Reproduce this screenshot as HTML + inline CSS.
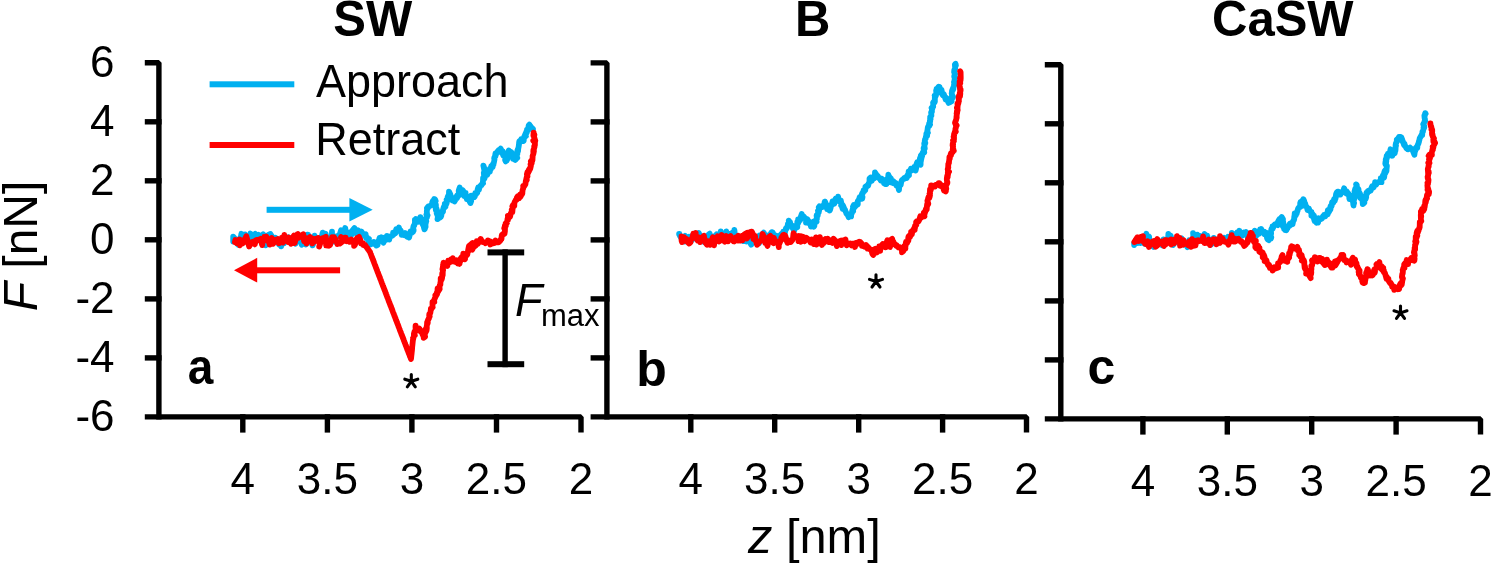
<!DOCTYPE html>
<html><head><meta charset="utf-8"><style>
html,body{margin:0;padding:0;background:#fff;}
body{width:1493px;height:564px;overflow:hidden;}
svg{display:block;will-change:transform;}
text{font-family:"Liberation Sans",sans-serif;fill:#000;}
</style></head><body>
<svg width="1493" height="564" viewBox="0 0 1493 564">
<g fill="#000">
<path d="M144.8 62.8 H158.9 V419.6" fill="none" stroke="#000" stroke-width="5.4" stroke-linejoin="bevel"/>
<path d="M144.8 416.9 H581 V432.6" fill="none" stroke="#000" stroke-width="5.4" stroke-linejoin="bevel"/>
<rect x="144.8" y="119.1" width="16.8" height="5.4"/>
<rect x="144.8" y="178.1" width="16.8" height="5.4"/>
<rect x="144.8" y="237.1" width="16.8" height="5.4"/>
<rect x="144.8" y="296.2" width="16.8" height="5.4"/>
<rect x="144.8" y="355.2" width="16.8" height="5.4"/>
<rect x="240.1" y="414.2" width="5.4" height="18.4"/>
<rect x="324.7" y="414.2" width="5.4" height="18.4"/>
<rect x="409.2" y="414.2" width="5.4" height="18.4"/>
<rect x="493.8" y="414.2" width="5.4" height="18.4"/>
<path d="M590.6 62.9 H606.9 V419.6" fill="none" stroke="#000" stroke-width="5.4" stroke-linejoin="bevel"/>
<path d="M590.6 416.9 H1026.5 V432.6" fill="none" stroke="#000" stroke-width="5.4" stroke-linejoin="bevel"/>
<rect x="590.6" y="119.2" width="19" height="5.4"/>
<rect x="590.6" y="178.2" width="19" height="5.4"/>
<rect x="590.6" y="237.2" width="19" height="5.4"/>
<rect x="590.6" y="296.2" width="19" height="5.4"/>
<rect x="590.6" y="355.2" width="19" height="5.4"/>
<rect x="688.1" y="414.2" width="5.4" height="18.4"/>
<rect x="772" y="414.2" width="5.4" height="18.4"/>
<rect x="856" y="414.2" width="5.4" height="18.4"/>
<rect x="939.9" y="414.2" width="5.4" height="18.4"/>
<path d="M1044.8 64.8 H1060.8 V421.6" fill="none" stroke="#000" stroke-width="5.4" stroke-linejoin="bevel"/>
<path d="M1044.8 418.9 H1480.5 V434.6" fill="none" stroke="#000" stroke-width="5.4" stroke-linejoin="bevel"/>
<rect x="1044.8" y="121.1" width="18.7" height="5.4"/>
<rect x="1044.8" y="180.1" width="18.7" height="5.4"/>
<rect x="1044.8" y="239.1" width="18.7" height="5.4"/>
<rect x="1044.8" y="298.2" width="18.7" height="5.4"/>
<rect x="1044.8" y="357.2" width="18.7" height="5.4"/>
<rect x="1140.2" y="416.2" width="5.4" height="18.4"/>
<rect x="1224.6" y="416.2" width="5.4" height="18.4"/>
<rect x="1309" y="416.2" width="5.4" height="18.4"/>
<rect x="1393.4" y="416.2" width="5.4" height="18.4"/>
</g>
<g font-size="44">
<text x="114.6" y="77.1" text-anchor="end">6</text>
<text x="114.6" y="136.1" text-anchor="end">4</text>
<text x="114.6" y="195.1" text-anchor="end">2</text>
<text x="114.6" y="254.1" text-anchor="end">0</text>
<text x="114.6" y="313.2" text-anchor="end">-2</text>
<text x="114.6" y="372.2" text-anchor="end">-4</text>
<text x="114.6" y="431.2" text-anchor="end">-6</text>
<text x="242.8" y="494.2" text-anchor="middle">4</text>
<text x="327.4" y="494.2" text-anchor="middle">3.5</text>
<text x="411.9" y="494.2" text-anchor="middle">3</text>
<text x="496.4" y="494.2" text-anchor="middle">2.5</text>
<text x="581" y="494.2" text-anchor="middle">2</text>
<text x="690.8" y="494.2" text-anchor="middle">4</text>
<text x="774.7" y="494.2" text-anchor="middle">3.5</text>
<text x="858.7" y="494.2" text-anchor="middle">3</text>
<text x="942.6" y="494.2" text-anchor="middle">2.5</text>
<text x="1026.5" y="494.2" text-anchor="middle">2</text>
<text x="1142.9" y="496.2" text-anchor="middle">4</text>
<text x="1227.3" y="496.2" text-anchor="middle">3.5</text>
<text x="1311.7" y="496.2" text-anchor="middle">3</text>
<text x="1396.1" y="496.2" text-anchor="middle">2.5</text>
<text x="1480.5" y="496.2" text-anchor="middle">2</text>
</g>
<text transform="translate(372.75 35.9) scale(1 1.035)" font-size="49" font-weight="bold" text-anchor="middle">SW</text>
<text transform="translate(812.8 35.7) scale(1 1.035)" font-size="49" font-weight="bold" text-anchor="middle">B</text>
<text transform="translate(1282.8 35.9) scale(1 1.035)" font-size="49" font-weight="bold" text-anchor="middle">CaSW</text>
<text transform="translate(200.6 383.6) scale(0.92 1)" font-size="50" font-weight="bold" text-anchor="middle">a</text>
<text x="651.6" y="386" font-size="50" font-weight="bold" text-anchor="middle">b</text>
<text x="1101.4" y="384.2" font-size="50" font-weight="bold" text-anchor="middle">c</text>
<text transform="translate(37.3 246) rotate(-90)" font-size="48" text-anchor="middle"><tspan font-style="italic">F</tspan> [nN]</text>
<text x="814.4" y="552.5" font-size="48.8" text-anchor="middle"><tspan font-style="italic">z</tspan> [nm]</text>
<rect x="209.6" y="81.3" width="84.7" height="6" fill="#00B0F0"/>
<rect x="209.6" y="142" width="84.7" height="6" fill="#FF0000"/>
<text transform="translate(316 96.6) scale(1 1.045)" font-size="45">Approach</text>
<text transform="translate(315.3 155.4) scale(1 1.045)" font-size="45">Retract</text>
<!-- arrows -->
<rect x="266.6" y="206.8" width="86" height="6" fill="#00B0F0"/>
<path d="M349.4 198 L372.7 209.8 L349.4 221.5 Z" fill="#00B0F0"/>
<rect x="254" y="267.3" width="86.1" height="6" fill="#FF0000"/>
<path d="M257.2 257.8 L234 270.3 L257.2 282.6 Z" fill="#FF0000"/>
<path d="M233.2 241.5 L233.2 236.6 L235.3 239.1 L236.6 241.3 L236.7 242.4 L238.1 244.6 L237.5 242.7 L240.9 236.7 L241.4 233.8 L241.6 236.3 L242.6 240.9 L244.9 237.2 L244 240.3 L244.9 241.1 L245.1 234.5 L245.7 235.3 L246.7 237.7 L247.8 238.9 L250 235.5 L250.4 233.5 L251.3 239.9 L252.4 234.9 L252.8 236.1 L255.2 233.9 L256.8 236.8 L257.7 239.3 L257.9 236.3 L258.6 234.8 L258.1 238.8 L260.2 238.5 L260.8 241.1 L261 236.3 L263.1 234.3 L263.6 241 L264.9 240.6 L265.3 240.4 L265.5 245.4 L267 243 L267.5 239.2 L269.2 238.6 L268.3 234.9 L270.4 234 L272.3 237 L273.6 238.5 L275 238 L275.4 239.1 L275.2 241.5 L275.1 238.3 L275.5 237.8 L279.2 241.2 L278.8 244.2 L281.1 245.7 L281.2 246.4 L282.6 240 L283.9 238.8 L284 243.4 L285.4 238.4 L285.7 241.4 L286 239.3 L287.6 238.5 L288.6 237.2 L289.3 238.6 L291.1 239.5 L292 241.3 L292.4 241.2 L294.7 237.1 L294.9 238.1 L293.9 238.4 L295.5 243.7 L297.6 235.8 L298 238.4 L298.5 238.6 L300.1 241.6 L300.5 240.7 L301.8 244.8 L302.4 239 L302.9 243.2 L303.5 239.8 L304.7 239.7 L306 244.5 L306 240.1 L307.4 234.6 L306.9 236.2 L308.1 234.8 L309.4 237.8 L311.1 242 L312.5 245.3 L312.9 244.7 L314.6 235.7 L315.4 237.5 L315.8 238.8 L318.1 240.1 L318.7 240.5 L318.5 239.5 L319 238 L319.5 238.9 L320.5 238.2 L321.4 238 L322.7 232.6 L323.4 233.9 L324.3 233.5 L325.7 233.9 L325.8 239.1 L326.6 240.9 L327.9 237.2 L329.5 238.3 L330.5 239 L332.1 242 L331.9 236 L332 231.6 L332 236.3 L333.9 240 L334.1 241.7 L335.5 236.6 L337.8 236.1 L339.7 234.6 L341.1 230.2 L340.9 234 L341 236.8 L341.9 232.6 L342.3 231.2 L343.6 232.8 L345 228.9 L345.2 228 L345.8 231.7 L346.7 234.1 L347.6 235 L348.5 232.5 L349.9 235.1 L351.4 235 L352.2 230.8 L354.4 228.1 L354.4 232 L356.2 233.4 L356.4 232.1 L357.9 230.3 L358.5 232.9 L359.6 232.9 L360 234.2 L360.7 233.4 L361.5 231.6 L362.1 232.8 L363.4 234.9 L364.5 235.9 L364.7 234.8 L365.6 234.2 L366.2 238.2 L366.7 237.6 L367.3 237.7 L368 240.4 L368.9 238.7 L368.5 239.4 L369.6 243.3 L370.2 243 L370.8 244.4 L371.3 242.5 L372.3 243.6 L373.4 243.6 L374 242 L375.2 244.4 L376.1 244.9 L376.4 245.6 L377.6 244.9 L377.9 241.9 L379 240 L379.6 237.9 L380.5 239.1 L381.4 237.3 L382 240.1 L383.4 242.6 L384.6 240.2 L385.5 240.1 L385.3 237.4 L387 237.7 L387 235.9 L387.9 236.6 L389.3 239.6 L389.4 236.7 L391.5 235.9 L392 235.8 L393.4 234.9 L393.1 232.7 L394.8 232.8 L395.4 233.1 L395.4 232.4 L396.3 229.1 L397.1 229.9 L398 230.2 L398.9 227.6 L399.8 230.9 L400.7 230.5 L401.4 233.1 L401.7 234.9 L402.9 233.7 L404.4 235.2 L404.1 234.7 L405.1 233 L405.1 234.5 L406.4 234.6 L407.1 236.7 L408 235.5 L407.8 236.4 L409.1 237.5 L409.6 235.6 L409.5 236 L409.9 233.4 L409.9 233.7 L410.5 231.4 L411.2 231.8 L412.1 232.5 L412.4 230.7 L412.9 231.9 L413.6 229.4 L413.6 230.6 L413.2 229.2 L413.2 227.6 L413.6 225.9 L414 225.8 L414.3 225.4 L415 222.4 L414.9 220 L415.3 220.9 L415.9 219 L416.3 220 L417.1 221.2 L418.3 221.7 L419.8 219.8 L420.3 217.2 L420 218.2 L420 219.6 L421.3 221.5 L422.1 221.3 L421.6 222.1 L422.7 223 L422.3 223.4 L423.2 225.3 L423.4 225.5 L424.1 226.7 L423.9 227.4 L424.4 229.4 L424.9 228.7 L425.1 227.7 L425.6 226.8 L425.4 224.1 L425.4 224.7 L425.9 222.6 L425.6 221.4 L426.3 221.2 L426 220.5 L425.9 219.2 L425.7 218.5 L426.3 218.1 L427 217.3 L426.4 214.5 L427.5 215.3 L427.1 215.1 L426.8 211.7 L427 209.8 L427.3 209 L427.6 208.6 L427 208.1 L428.2 206.6 L428.3 206.9 L429 206.1 L429.5 206.3 L430.5 205.5 L430.9 205.4 L431.3 205.2 L432.4 203.6 L432.2 202.5 L432.9 200.9 L434 200.4 L434.2 199 L434.8 199.2 L435.1 199.5 L435.7 201.1 L435 202.1 L435 203.6 L435.2 205.2 L435.9 204.7 L435.9 207.8 L435.5 207.2 L435.9 210.3 L436.5 208.4 L437.2 211.4 L436.5 210.6 L436.4 211 L436.8 212 L437.6 211.2 L436.7 213.4 L437.5 215.3 L437.9 215.1 L437.8 217.5 L437.5 219.1 L438.3 218.7 L438.2 217.3 L439.3 217.8 L440.4 217.3 L440.8 216.9 L441.3 215.7 L441.6 213 L442.1 212.7 L442.4 211.1 L443 211.6 L443.1 209.5 L443.7 207.2 L444.4 205.8 L444.9 207.3 L445.4 206.8 L444.9 205.7 L444.8 203.9 L446.4 204.1 L446.8 202.6 L446.3 202.5 L446.9 200.8 L446.6 199.7 L447.2 199.8 L447.5 198 L447.7 196.7 L448.7 198.6 L448.9 195.7 L449 191.7 L450.1 193.8 L450.5 195 L450.4 195.9 L451.6 198.9 L451.8 198.4 L452 200.2 L452.2 200.3 L452 199.3 L453.5 199.4 L454.1 200 L454.8 201.1 L454.5 201.5 L454.9 200.2 L455.5 199.8 L455.5 198.5 L455.5 197.5 L456 197.3 L456.5 196.9 L456.9 195.8 L456.9 198.2 L458.3 195.1 L458.8 194.5 L458.9 195.3 L458.7 190.7 L459.7 187.6 L460.2 190.1 L461.3 190.3 L462.3 190 L463.1 190.7 L462.7 193 L464.1 192.7 L464.2 196 L464.3 194.8 L464.9 193 L465.6 193 L465.5 194 L466.3 196.4 L466.8 199.1 L467.6 197.1 L468.4 198.9 L470.4 203.1 L471.2 201 L471.2 195.7 L472.7 197.5 L474.1 197.2 L474.8 196.6 L474.8 195.7 L475.2 193.1 L475.8 194 L476.2 194 L476.3 194 L476.8 192.1 L477.3 192.7 L477.6 189.5 L478.2 187.5 L479 189.7 L479.1 188.7 L479 187.6 L480.4 186.4 L480.9 185.3 L481.4 185.2 L482.2 183.8 L483 183.3 L482.6 183.4 L483 181.1 L483 181 L483.1 177.9 L483.8 176.8 L483.9 178.9 L484.4 178.6 L485.1 176.3 L484.6 175.1 L484 174.8 L483.8 172.7 L484.2 173.9 L484.5 171 L483.4 165.6 L484.4 168.4 L485.5 173 L487.3 174.7 L488.5 171.1 L489.2 170.5 L489.4 170.6 L489.9 171.6 L490 168.6 L491.1 168.6 L491.3 166.1 L492.6 167 L492 166.3 L492.3 165.9 L492.8 164.2 L493.5 164.5 L493.4 163.3 L493.8 163 L494.5 159.5 L494.2 158.4 L494.4 157.4 L494.5 157.3 L495.4 156.3 L495.5 153.3 L495.1 155.9 L495.8 155.1 L496.7 152.6 L498.4 150.4 L498.3 152.2 L498.5 150.9 L500.6 148.7 L501.5 150.4 L502.6 151.8 L502.7 152.6 L502.7 151.5 L502.4 153.1 L503.3 155.6 L504.1 154.1 L505.8 155.9 L505.4 157.9 L505.7 157.6 L505.1 159.9 L505.8 161.4 L506 160.1 L506.3 160.1 L506.8 160.3 L507.2 156.9 L507.4 159 L507.3 158 L508.3 154.8 L507.9 157 L507.7 154.5 L507.9 156.4 L508.4 156.4 L508.4 151.7 L508.8 150.5 L510.1 152.7 L511.4 152.3 L512.7 155 L513.4 155.8 L513.2 158.8 L513.8 158.7 L514.7 159 L515.5 158 L515.3 160 L516.2 158.9 L516.3 157.2 L517.3 157.9 L516.5 156.9 L516.8 155.8 L517.1 154.2 L517.4 153.8 L517.2 152.2 L517.4 150.2 L518 150.9 L517.7 149.5 L518.1 151.2 L518.2 148.9 L518.7 146.5 L519 144.1 L519.1 142.6 L519.3 141.4 L520.2 140.5 L520.7 141.1 L521.2 139.2 L521.5 141.3 L522.6 140.1 L523.5 141 L523.7 140.6 L524.1 137.6 L524.4 136.2 L525.4 136.4 L525.9 136.1 L525.1 134.8 L525.9 133 L526 132.4 L526.8 132.6 L527 129.7 L527 130.9 L528.4 129.9 L528.4 129 L528.5 126.6 L528.7 125.4 L529.4 124.6 L530.3 126.9 L530.3 126 L531.4 127.5 L531.6 128 L532.7 129.1 L533 129" fill="none" stroke="#00B0F0" stroke-width="5.8" stroke-linejoin="round" stroke-linecap="round"/>
<path d="M679.1 234 L679.5 234 L679.8 235.7 L681.7 238.7 L682.6 238.7 L683.8 240.4 L683.3 237.3 L684.3 238.2 L684.5 241.7 L685 236.2 L685.2 235.8 L686.8 239.8 L689.2 236.7 L689.7 238.7 L690.5 239.1 L692.1 239.9 L692 238.4 L692.8 235.3 L693.3 235.6 L694.4 233.9 L696.9 238.9 L696.8 236.9 L698 235.9 L698.9 233.1 L700.1 236.5 L700.2 235.5 L700.9 241.3 L701.4 238.8 L702.3 237 L704.4 242.1 L706.6 239.3 L706.1 242.9 L706.8 242.8 L706.4 238.9 L707.9 235.1 L710.1 234.9 L709.6 233.6 L711.8 240.7 L712.8 240 L713.4 238.8 L713.4 239.5 L713.4 239.7 L714.4 236.7 L716.5 234.4 L717.3 235.1 L718.5 234.4 L721.6 236 L720.4 239 L720.6 236.5 L720.8 231.4 L723 240.3 L723.9 238.7 L724.7 236.2 L726 232.2 L725.8 235.5 L726.3 231.5 L727.5 235 L729.3 234 L730.6 237.7 L731.6 238.8 L731.3 237.2 L732.5 232.6 L733.2 237.1 L734.3 231.7 L734.4 230 L735.3 239.7 L736.9 236.8 L737.2 237 L739.4 240.1 L740.3 237.9 L741.7 237 L743.4 237.1 L744.4 235.3 L743.9 241.2 L745.3 241 L745.3 239.7 L746.7 239.3 L746.7 241.5 L748.4 239.3 L750.1 242.5 L751.2 244.7 L750.6 242.5 L752.1 238.3 L751.5 232 L752.8 235.7 L753.5 235.6 L755.2 236.9 L756.2 236.9 L758.1 242.8 L759.6 235.4 L759.6 237.8 L759.1 243.1 L760.5 239.5 L761.8 234.8 L763.7 232.6 L764.1 236.8 L764.1 236.5 L766.7 235.4 L766.9 237.4 L768.4 238.8 L769.5 241.5 L768.6 238.2 L770.2 239.3 L770.2 234.6 L771.6 232.1 L772.7 232.5 L774.4 236 L774.6 237.8 L774.7 236.4 L775.9 235.7 L777.3 236 L777.8 237.2 L778.5 237.1 L779.7 236.4 L780.4 235.2 L781.7 233.7 L782.2 234.5 L782.5 234.1 L783.2 231.7 L784.6 233.9 L785.4 230.5 L785.8 228.5 L786.8 228.4 L787.2 227.1 L787.2 227.2 L786.6 227.8 L787.2 226.8 L787.7 225.5 L788 223.5 L788.4 223.3 L789.1 221.7 L788.8 220.6 L789.9 223.3 L790.1 222.2 L790.6 225.2 L790.7 225 L792 225.5 L792.9 228.6 L793.3 228.2 L794.1 230.9 L795 228.3 L795.1 228.1 L795.4 226.3 L795.2 226.2 L795.9 225.5 L797.3 227.3 L797.3 224.1 L797.3 221.9 L797.8 222 L798.4 222.7 L798.2 219.3 L798.4 220.2 L798.5 219.5 L799.6 220.1 L800.2 220.1 L800.5 217.4 L800.7 217.1 L801.7 214.1 L802.8 216.4 L803.5 217.7 L803.5 216.8 L803.9 216.7 L805.1 218.4 L805.9 219 L806.2 220.3 L806 222.5 L807.3 219.1 L808 220.4 L808.6 223.1 L809.1 221.6 L810.4 223.7 L810.9 226.6 L811.3 226 L811.8 224.1 L813.1 225.6 L813.9 226.7 L814.4 225.8 L814 222.1 L813.9 221.3 L814.1 222.3 L814.6 221.7 L815.4 221.1 L816.6 221.7 L815.9 220.5 L816.1 219.6 L816.9 219 L816.6 215.4 L817.5 215.3 L817.7 215.8 L818 212.9 L818.7 212.4 L818 210.8 L819.2 210.6 L818.7 207.3 L819.4 206.3 L820 207.7 L821 206.6 L822.2 207 L822.6 205.8 L823 205.5 L823.7 205 L824.3 204.5 L824.7 201.6 L824.7 201.9 L825.1 201.8 L825.7 203.5 L826 204.9 L825.8 206.3 L826.8 207.7 L827.1 209 L828.9 207.6 L828.7 209 L829.7 210 L829.7 210.5 L830.1 209.6 L830.3 208.9 L830.7 207.4 L829.9 205.5 L830.5 206.6 L830.7 206.2 L831.2 205.8 L831.9 204.6 L832.4 201.8 L832.5 201.9 L832.5 203.2 L833 202.5 L832.6 201.3 L834.3 203.6 L835.9 199.8 L835.8 198.5 L834.8 200.3 L837.6 199.9 L838.1 196.7 L838.4 199.1 L839.1 201.2 L839.2 200.9 L839.9 201.3 L840.8 200.5 L841.5 203.7 L841.1 205.2 L841.7 205.5 L842.6 208.7 L842.8 205.1 L843.7 207.1 L843.9 208 L844.3 209.7 L844.8 209.9 L844.9 209.3 L845.7 211.8 L846.2 212.8 L846.7 213.6 L846.5 213.7 L847.6 215 L848.1 215.1 L847.8 214.5 L848.6 217.2 L849.7 215 L850.1 214.5 L851 214.3 L851.1 216.4 L851.1 214.9 L851.7 213.5 L852.3 210.3 L853.2 211.2 L852.6 209.7 L853.5 206.9 L853 206.7 L853.7 205.1 L854.3 207.6 L855.5 206.2 L857 204.3 L857 203.3 L857.4 202.3 L857.5 204.7 L857.8 204.3 L857.8 201.2 L859.1 199.3 L859.7 197.1 L860.6 199 L861 198.6 L861.5 198.8 L861.3 196.6 L862.2 198.6 L862.5 197.1 L861.8 194.4 L862.4 193 L863 192.9 L863.5 190.5 L864 191.5 L864.7 189.4 L865.3 190.2 L865.4 186.9 L866.5 187.1 L865.8 186.5 L866.5 186.5 L867.3 185.2 L867 186.2 L868.1 185.6 L868.8 183.1 L868.8 183.3 L869.5 181.7 L869.5 178.6 L870.6 177.5 L871.3 180 L871.9 180.6 L873 177.2 L874.2 177.7 L874.5 178.1 L875 174.8 L874.9 176.5 L875 172.4 L876.6 175.1 L877.3 175.6 L877.8 176.1 L878.5 177.2 L879.7 179 L879.6 177.9 L880.8 180.6 L881.4 179.5 L881.6 178.6 L882.7 180.8 L883.4 179.9 L884.1 183.3 L884.8 183.9 L885.2 183.6 L885.7 182.6 L885.9 183.3 L886.6 184 L886.5 182.6 L886.7 181.2 L887.2 179.1 L887 180.9 L888.1 178 L888.4 174.6 L889.2 177.8 L889.9 177.5 L890.3 179.6 L890.9 178.4 L891.4 182.5 L891.9 181.7 L892 182.4 L893.1 183.1 L893.3 181.1 L894.6 182.5 L895.4 184 L895.5 182.9 L896.3 183.5 L896.5 185.7 L898.2 186.3 L898.8 189.5 L899 190.1 L899.3 185.1 L900 185.4 L900.7 185.1 L901.1 182.6 L901.8 180.2 L902.3 179.8 L902.8 179.7 L904 178.3 L904.2 178.1 L904.2 178.8 L905.5 177.3 L906.8 178 L907 176.9 L907 176.6 L907.5 176.5 L907.9 174.4 L909 175.4 L908.6 171.5 L909.9 170.9 L910.3 171 L910.9 168.8 L911.7 170.5 L912.9 168.8 L914.5 168.1 L914 168.7 L914.2 166.9 L915.6 170.5 L916.2 168 L916.3 164.7 L917.2 162.2 L918 162.4 L919 164.6 L919.8 163.5 L920.1 164 L920.6 164.8 L920.6 162.4 L921 160.5 L920.8 161 L920 161 L919.9 158.3 L921.1 157.8 L921.5 158.4 L920.8 155.7 L921.4 154.8 L922.1 156.1 L922.8 152.4 L923.6 151.8 L924.3 152.5 L923.6 148.6 L923.6 148.2 L923.9 149.3 L924.4 149.2 L924.8 148.4 L924.4 145.9 L924.3 143.6 L924.2 143.6 L925.2 143.7 L924.8 142.3 L925.3 143 L924.7 141.2 L925.1 139.1 L925.7 138.4 L925.8 137.2 L926.3 135.1 L926.3 134 L926.7 135.3 L927.1 135.9 L927.2 134.8 L927.2 132.1 L927.9 132.7 L927.2 131.6 L927.5 130.1 L927.8 127.5 L928.4 125.9 L928.7 125.9 L928.8 125.3 L929.2 126.2 L929.1 123.9 L930.1 124.6 L929.6 123.9 L930.2 121.2 L929.8 121.2 L930.1 121.5 L930.1 118.1 L930.6 119 L930.2 117.4 L930.3 117 L930.2 116.8 L931.4 115.7 L931.3 114.2 L931.1 112.5 L931.8 111.3 L931.9 111.6 L931.7 110.9 L932.4 108.3 L931.6 107.8 L932.3 107.4 L933.2 106.6 L933.1 105 L933.6 103.2 L933.1 102.8 L933.5 101.9 L933.7 102.3 L933.7 103.5 L934.9 101.6 L934.8 97.6 L934.9 99.1 L935.1 96.6 L934.7 95.5 L935.6 96.2 L935.9 95.6 L936.2 94.2 L936.3 90.7 L936.1 90.7 L936.5 90.7 L936.6 88.9 L937.1 89.2 L937.7 88.2 L938.6 86.6 L939.6 87 L940 90.3 L941.1 89.9 L941.5 89.7 L941.6 92 L941.1 92.9 L941.8 91 L942 93.7 L942.8 95.3 L943.9 94.4 L944.6 96.4 L944.7 96.7 L945.5 99 L945.6 99.6 L945.7 97.3 L946.6 98.8 L948 101.5 L948.6 102.9 L950.2 102.2 L950.9 99.5 L951.6 101.2 L950.9 99 L951.3 97.5 L952.1 95.8 L953 96.5 L952.9 97.3 L952.1 95 L951.7 93.4 L951.8 93.6 L952 90.8 L952.6 89.3 L952.7 88.8 L953.3 89.1 L953.3 89.5 L953.4 88.6 L953.5 87.1 L953.5 87.8 L954.1 85.5 L954 84.8 L954.2 83.6 L954.2 81.2 L954 81.8 L954.4 80.9 L954.7 78.8 L954.8 78.6 L954.6 77.7 L955.1 77 L954.5 75.2 L954.2 76.9 L954.3 75.8 L955 74 L954.7 74.6 L954.6 71.7 L954.1 72.2 L954.3 70 L955.2 68.7 L954.9 64.8 L955.7 65.8 L955.9 65.5 L955.7 64.4 L955.5 63.7" fill="none" stroke="#00B0F0" stroke-width="5.8" stroke-linejoin="round" stroke-linecap="round"/>
<path d="M1134.1 243.4 L1134.2 245.1 L1136.1 239.8 L1136 240.9 L1136.6 243 L1138.8 242.8 L1138.5 239.7 L1140.6 241.2 L1140.4 243.1 L1141.8 239 L1141.4 238.8 L1143.3 239.7 L1144.6 241.5 L1144.8 243.8 L1145.2 239.1 L1145.7 235.7 L1146.3 233.8 L1147.3 239.8 L1147.7 237.9 L1149.1 236.6 L1149.4 242.2 L1151.3 244.9 L1153.5 246.9 L1155.6 241.6 L1154.9 242.7 L1156.9 242.7 L1157.6 243.6 L1158.6 242.8 L1158.7 242.7 L1159 242.6 L1160 241.8 L1162.2 245.3 L1161.5 243.5 L1162.6 242.4 L1164.2 242.4 L1163.5 239.3 L1166 242.5 L1168.2 241.5 L1168.1 238.5 L1168.4 233.9 L1169.9 238.5 L1170.6 235.5 L1172.2 241.5 L1172.4 242.7 L1173.2 244.9 L1173.9 243.1 L1176.2 241.4 L1177.7 240.9 L1178.2 242.8 L1177.3 240.9 L1177.7 241.1 L1178.8 240.1 L1181.2 240.1 L1181.7 238.4 L1183.7 243.7 L1183.7 244.4 L1185.5 242.9 L1187.5 247.2 L1186.7 244.9 L1187.3 243.2 L1189.1 240.4 L1190.3 243.1 L1191.7 241.2 L1191.8 242.2 L1193.4 236.4 L1193.1 233.1 L1194.3 240.4 L1195.2 238 L1196.3 236.5 L1198 238.4 L1197.4 238.7 L1197.3 234.7 L1199.6 238 L1199.9 235.9 L1200.9 237.5 L1202.3 239.5 L1203.5 237.1 L1203.7 236.2 L1204.5 234 L1205.2 236.2 L1207.2 235.7 L1207.9 238.7 L1208.3 242.6 L1209.8 241.6 L1211.1 244.6 L1212.6 242.6 L1212.5 243.5 L1212.2 243.2 L1213.7 237.9 L1214.4 241.4 L1216.3 241 L1217.8 240.2 L1217.2 239.8 L1217.3 240.2 L1218.1 242.7 L1219.4 242.7 L1221 240.1 L1222.2 238.6 L1223.7 237.8 L1225.1 240 L1225.7 239.8 L1227.3 238.4 L1228 236.8 L1229.3 240.5 L1230.6 237.3 L1229.4 237.1 L1230.3 236.5 L1230.4 237.9 L1231.2 240.7 L1231.8 237.2 L1231.8 232.8 L1233.4 234.9 L1236.1 235.4 L1237.1 232.5 L1236.9 233 L1238.3 236.3 L1239.4 230.8 L1239.6 232.6 L1241.2 235.5 L1242 235.7 L1242.9 234.8 L1243.9 232.5 L1245.2 234.5 L1246.7 232.7 L1246 232 L1246.3 232.7 L1247.7 237.3 L1250.1 234.8 L1249.9 234.9 L1250.9 234.7 L1253.4 235.5 L1253.3 233.9 L1254.7 230.7 L1255.9 232.6 L1255.8 236.2 L1257.5 234.7 L1258.7 233.3 L1259.1 233.8 L1259.3 233.3 L1260.1 229.4 L1260.8 230.3 L1260.7 230.3 L1261.2 229 L1261.3 229.5 L1262.1 231.8 L1262.6 232 L1263.9 231.8 L1263.8 232.7 L1264.6 232.5 L1264.7 234.4 L1265.7 233.6 L1266.4 232.7 L1266.9 237.5 L1267.2 238.6 L1267.9 239.6 L1268.7 240.1 L1268.5 239.3 L1269.1 238.2 L1270.7 237.6 L1270.7 237.9 L1271.3 237.3 L1270.9 238.5 L1270.5 235.8 L1270.4 237.1 L1271.1 233.4 L1271 231.6 L1271.4 229 L1271.6 228.7 L1271.6 228.7 L1271.6 229.3 L1272.7 228.7 L1272.5 226.4 L1273.3 227.2 L1274.3 225 L1275 224.4 L1275.1 224.2 L1276 224.2 L1276.8 224.5 L1277.8 225.1 L1278.9 223.1 L1278 221.7 L1279.4 219.2 L1280.5 219.2 L1280.8 218.2 L1281.7 217.1 L1282.9 219 L1282 218.5 L1282.7 221 L1282.3 221.3 L1282.6 223.1 L1283 221 L1283.1 221.4 L1283.4 223.6 L1282.9 226.4 L1284.3 228.1 L1284 227.2 L1284.1 228.7 L1285.2 228.4 L1285.3 230.1 L1285.9 229.8 L1286.3 230.2 L1286.8 228.2 L1287.6 228.1 L1287.7 226.3 L1288.5 226.1 L1289.4 226 L1289 225.3 L1289.8 223.7 L1290 223.9 L1291.2 223 L1292.2 223.9 L1292.5 224.3 L1293.4 220.4 L1293.9 220.3 L1294.3 218.8 L1294.2 217.3 L1294.6 215 L1294.7 213.3 L1295.7 214.8 L1295.8 215.3 L1296.5 212.4 L1296.8 213.5 L1296.8 212.1 L1297.5 211 L1297.7 209.8 L1298.5 208.1 L1298.2 208.2 L1299 207.4 L1299.9 207.2 L1300.2 207 L1300.1 207 L1300.2 203.1 L1301.5 203.2 L1300.7 201.8 L1300.9 203.1 L1301.7 202.4 L1302.7 200.1 L1303.1 200.4 L1303.4 199.2 L1304.2 200.9 L1303.9 202.6 L1303.7 205.7 L1304.6 204.9 L1305.2 203.4 L1305.6 205.6 L1306.9 207.1 L1307.5 210 L1308.2 209 L1309 208.8 L1309.5 210.6 L1309.8 210.9 L1310.1 211.5 L1311.5 211.8 L1311.4 215.6 L1311.9 213.6 L1312.9 214.5 L1313.3 215 L1313.2 217.2 L1313.9 215.4 L1314.1 219.2 L1314.6 221 L1315.6 220.1 L1315.3 217.8 L1316.1 219.8 L1316 221.5 L1316.4 222.7 L1317.6 222.2 L1318.1 222.5 L1317.8 219.6 L1318.7 218.2 L1319.4 219.1 L1320.4 219.5 L1320 219.5 L1320.7 219.1 L1321.6 218.8 L1322 218.4 L1322.9 216.3 L1322.9 217.4 L1323.9 216.3 L1324.2 214.9 L1325.2 216.3 L1326.2 214 L1327.8 214.3 L1327.8 210.3 L1328.6 209.8 L1328.1 210.8 L1329.1 211.6 L1330.5 209.3 L1330.2 207.8 L1330.5 206.2 L1331.6 206.3 L1332 203.7 L1332 202.6 L1332.2 203 L1332 204.2 L1332.7 202.4 L1332.3 201.9 L1332.2 202.8 L1333.5 202.4 L1334.1 199.1 L1334.8 200.9 L1334.9 199.2 L1335.5 198.9 L1335.7 197.6 L1335.6 197.7 L1336.1 194 L1337 192.1 L1337.6 192.1 L1338 192.2 L1337.7 191.6 L1340.5 192.5 L1340.3 194.7 L1341.6 192.5 L1343.1 192 L1344.1 188.2 L1344.9 190.5 L1346 192 L1346.1 191.7 L1346.5 193.5 L1346.7 191.5 L1347.9 193.2 L1348.4 193.5 L1349.2 196.8 L1349.6 195.1 L1349.7 198.7 L1349.3 198.2 L1349.5 199.1 L1349.9 197.9 L1350.7 199.2 L1351.5 199.5 L1352.7 201 L1353.1 202.6 L1354.1 203.1 L1353.5 204.9 L1353.5 205.5 L1353.2 203.7 L1353.3 203.4 L1353.7 203 L1353.7 200.7 L1354.2 199.3 L1354.3 198.8 L1354.4 196.3 L1355.2 195.7 L1355 195.8 L1355.7 194.4 L1355.3 192.2 L1354.6 192.6 L1355.4 192.1 L1355.1 192.5 L1354.5 191.5 L1355.3 188.6 L1355.5 189.5 L1356.4 188.3 L1356.1 188.3 L1356.6 186.4 L1356.1 184.4 L1356.8 185.1 L1356.6 188.8 L1356.7 186.9 L1357.2 187.7 L1358.5 189.1 L1358.6 193 L1359 194.3 L1358.6 193.2 L1359.7 193 L1360.4 195 L1361.3 196.6 L1360.7 197.6 L1360.3 198.1 L1361.2 198.5 L1362.3 199 L1362.4 199.4 L1363 200.3 L1362.5 201.5 L1362.6 201.7 L1362.8 204.1 L1364.3 202.8 L1363.3 201.9 L1363.9 200.7 L1364.9 199.7 L1365.3 197.6 L1365.3 199.5 L1365.9 198.2 L1366.2 197.2 L1366.1 195.5 L1366.4 192.7 L1366.8 193.9 L1366.8 194.1 L1367.9 192.3 L1367.9 190.9 L1369.1 190.5 L1369.6 191.1 L1369.4 190.6 L1370.4 190.5 L1370.7 190.6 L1371.1 188.8 L1372.2 186.2 L1372.7 186.9 L1373.6 187.5 L1374.1 185.2 L1375 183.3 L1375.1 182.2 L1376.4 184.4 L1376.7 183 L1377.9 182.1 L1378.8 182.2 L1379.4 181.9 L1380 182.1 L1381.5 182.2 L1381 179.8 L1380.8 178.1 L1381.9 179.8 L1382.7 175.7 L1384.1 177.7 L1384.5 174.8 L1384.1 172.9 L1384.6 171.2 L1385.2 170.3 L1385.5 173.1 L1386 171.2 L1386.5 170.9 L1386.5 169.5 L1386.9 165.9 L1386.6 165.3 L1385.9 165 L1386.1 162.5 L1385.6 164.6 L1385.3 163.7 L1385.6 161.1 L1386.3 161.5 L1386.3 159.5 L1385.7 159.5 L1386.3 158 L1386.8 158.4 L1386.4 159.2 L1386.6 156.5 L1386.7 155.9 L1387.8 154.5 L1387.9 153.7 L1388.5 155.7 L1389.6 154.2 L1390.5 149.3 L1392.2 155.8 L1393.9 152.6 L1393 150.6 L1394.4 153.5 L1394.8 153.1 L1394.9 150.7 L1395.6 148.7 L1395.4 150.9 L1395.3 149.7 L1395.7 147 L1395.5 148.7 L1395.6 144.9 L1396 145.6 L1395.8 145.8 L1395.9 143.3 L1396.4 142.5 L1396.9 140.4 L1397.2 139.9 L1396.9 139.5 L1397.9 138.7 L1399 136.9 L1400.4 136.9 L1401.1 138 L1401.3 137.2 L1402.2 139.5 L1402.2 139.5 L1401.6 140.5 L1402.7 140.9 L1403.2 142.7 L1403.5 143.1 L1404.1 145.1 L1404.4 143.5 L1404.8 145.3 L1406 147.3 L1406 147.6 L1406.6 148.6 L1407.9 148.6 L1408 149.3 L1410 147.6 L1410.7 148.5 L1411.8 149.4 L1412 148.9 L1412.7 150.2 L1413.3 152 L1414.4 154.8 L1414.8 151.4 L1415.2 151.3 L1415.3 150.8 L1415.3 150.5 L1416 147.6 L1416.1 148.5 L1417 147.6 L1417.3 147.9 L1417.4 145.9 L1418 144.1 L1417.9 144.5 L1418.4 143.6 L1419 141.7 L1418.8 142 L1419.1 140.8 L1419.4 139.9 L1419.7 138.2 L1421 136.1 L1421.6 134.9 L1422 135.1 L1422.2 135.1 L1422.4 132 L1422.8 132.1 L1422.8 131.3 L1422.8 132.3 L1423.3 129.8 L1423.8 128 L1423.5 127.5 L1423.9 126 L1424.3 127.6 L1424.2 126 L1423.2 124.3 L1424.1 122.8 L1424.5 121.5 L1424.4 121.8 L1425.2 121.2 L1425 119.2 L1425.2 120.2 L1424.6 118 L1424.4 115.8 L1424.7 116 L1425.2 113.2 L1424.9 114.4 L1425.6 113.7" fill="none" stroke="#00B0F0" stroke-width="5.8" stroke-linejoin="round" stroke-linecap="round"/>
<path d="M234.9 242.1 L235.4 240 L236.7 243 L238.5 241.8 L238.7 243.3 L239.9 245.3 L239.6 239.3 L241.3 240.8 L242.8 243.2 L243.2 240.1 L244.5 241.9 L246.1 237.7 L245.5 241.1 L244.5 240.1 L246.3 236.2 L248.8 245.1 L248.9 245.3 L249.1 246.5 L251.8 242 L253.7 241.6 L254.6 244.1 L254.8 244.3 L255.7 240.8 L255.8 240.3 L257.5 239.8 L258.6 240 L259.8 239.3 L260.5 238.9 L262.2 245.1 L262.6 241.4 L263.4 241 L264.1 238.3 L264.3 237 L265 239.2 L266.3 236.6 L267.1 240.1 L269.3 242.5 L269.7 244.6 L270.7 243.6 L270.5 241 L271.7 237.9 L273 243.9 L275.6 239.9 L274.7 241.9 L275.8 241.6 L276.6 240.4 L277.9 239.1 L278.5 241.3 L279 243.3 L280.3 241.4 L282.8 242.5 L282 237.7 L282.6 239.3 L284.2 235.9 L284.3 235 L284.5 237.5 L285.5 239.4 L288 241.9 L287.6 239.1 L288.7 237.6 L291 243.8 L290.9 239.3 L291.3 240.2 L293.9 235.6 L293.3 240.3 L293.3 241.5 L294.6 243.1 L295 242 L297.4 234.3 L297.8 234 L296.6 235.1 L298.2 238 L300.8 236.1 L302.4 235 L303.3 234.2 L303.4 237 L304.1 241.4 L304.8 239.3 L306.9 240 L306.4 243.6 L307.4 238.2 L309.1 240.3 L310.2 237 L310.9 240.9 L312.2 242.9 L312.3 243.5 L313.4 238.8 L314.9 240.8 L314.5 241.5 L315.7 238.9 L318.2 237.9 L319.8 244.4 L320.3 243.2 L319.2 246.6 L319.7 244.5 L319.7 242.7 L322.1 238.5 L323.3 238 L325.8 236.8 L325.9 239.7 L326.1 245.4 L327.5 245.5 L326.9 242.6 L329 245.7 L330.2 244.7 L330.5 240.5 L331.5 241.7 L332 237.2 L333 239.1 L334.2 237.4 L334.9 238.6 L336.5 241.2 L337.3 244 L338.7 243.5 L339.7 243.7 L341.7 242.2 L342.4 238.5 L341 237.2 L342.7 239.7 L343.8 240.8 L344.7 237.6 L345.7 237.6 L346.5 241.2 L347.2 240.7 L348.7 240.4 L349.5 241.8 L350.8 240.2 L351.3 239.6 L351.7 240.9 L352.3 242 L354.5 241.3 L354.1 245.8 L355 244.8 L356.9 238.2 L359.1 236.9 L359 239.7 L360.2 239.3 L360.5 241.6 L361.1 243.6 L362.7 244.1 L363 243.3 L363.4 245 L365 245 L365.6 245.8 L366.1 246.6 L366.7 247.3 L367.2 248.1 L367.8 248.9 L368.3 249.7 L368.9 250.4 L369.4 251.2 L370 252 L370.3 252.8 L370.6 253.7 L371 254.5 L371.3 255.4 L371.6 256.2 L371.9 257.1 L372.3 257.9 L372.6 258.7 L372.9 259.6 L373.2 260.4 L373.6 261.3 L373.9 262.1 L374.2 263 L374.5 263.8 L374.8 264.6 L375.2 265.5 L375.5 266.3 L375.8 267.2 L376.1 268 L376.5 268.9 L376.8 269.7 L377.1 270.5 L377.4 271.4 L377.7 272.2 L378.1 273.1 L378.4 273.9 L378.7 274.7 L379 275.6 L379.4 276.4 L379.7 277.3 L380 278.1 L380.3 279 L380.7 279.8 L381 280.6 L381.3 281.5 L381.6 282.3 L381.9 283.2 L382.3 284 L382.6 284.9 L382.9 285.7 L383.2 286.5 L383.6 287.4 L383.9 288.2 L384.2 289.1 L384.5 289.9 L384.9 290.8 L385.2 291.6 L385.5 292.4 L385.8 293.3 L386.1 294.1 L386.5 295 L386.8 295.8 L387.1 296.7 L387.4 297.5 L387.8 298.3 L388.1 299.2 L388.4 300 L388.7 300.9 L389 301.7 L389.4 302.6 L389.7 303.4 L390 304.2 L390.3 305.1 L390.7 305.9 L391 306.8 L391.3 307.6 L391.6 308.4 L392 309.3 L392.3 310.1 L392.6 311 L392.9 311.8 L393.2 312.7 L393.6 313.5 L393.9 314.3 L394.2 315.2 L394.5 316 L394.9 316.9 L395.2 317.7 L395.5 318.6 L395.8 319.4 L396.1 320.2 L396.5 321.1 L396.8 321.9 L397.1 322.8 L397.4 323.6 L397.8 324.5 L398.1 325.3 L398.4 326.1 L398.7 327 L399.1 327.8 L399.4 328.7 L399.7 329.5 L400 330.4 L400.3 331.2 L400.7 332 L401 332.9 L401.3 333.7 L401.6 334.6 L402 335.4 L402.3 336.3 L402.6 337.1 L402.9 337.9 L403.3 338.8 L403.6 339.6 L403.9 340.5 L404.2 341.3 L404.5 342.1 L404.9 343 L405.2 343.8 L405.5 344.7 L405.8 345.5 L406.2 346.4 L406.5 347.2 L406.8 348 L407.1 348.9 L407.4 349.7 L407.8 350.6 L408.1 351.4 L408.4 352.3 L408.7 353.1 L409.1 353.9 L409.4 354.8 L409.7 355.6 L410 356.5 L410.4 357.3 L410.7 358.2 L411 359 L411.1 358.1 L411.2 357.1 L411.3 356.2 L411.4 355.3 L411.5 354.4 L411.6 353.4 L411.7 352.5 L411.8 351.6 L411.9 350.6 L412 349.7 L412.1 348.8 L412.1 347.9 L412.2 346.9 L412.3 346 L412.4 345.1 L412.5 344.1 L412.6 343.2 L412.7 342.3 L412.8 341.3 L412.9 340.4 L413 339.5 L413.1 338.6 L413.2 337.6 L413 339.9 L413 339.7 L413.8 336.4 L414 333.8 L414.8 335.3 L413.9 333.8 L414.6 331.3 L415.3 331 L415.4 331 L415.6 329 L415.6 325.7 L415.5 327.1 L416.1 329.9 L417.5 328.9 L418 330.5 L418.5 329 L419.3 328.5 L420.4 330.3 L420.9 331 L421.6 332.3 L422 332.8 L422.4 334 L423.6 336.5 L423.7 337.8 L425.1 336.7 L424.6 334.6 L425.2 331.9 L424.9 333.7 L425.4 330.8 L425.6 332.6 L425.8 330.7 L426.5 330.4 L425.8 328.8 L426.4 331 L426.8 328.6 L426.8 327 L426.6 327.1 L426.7 326.5 L427 324.9 L427.1 322.5 L427.7 323.4 L427.9 320.8 L427.6 321.8 L428 320 L429 317.9 L428.9 318.7 L429.2 317.2 L429.6 315.7 L429.7 316.4 L429.2 315.5 L429.3 314.1 L430.3 313.1 L430.8 309.9 L430.9 308.6 L431 308.9 L431.5 308.8 L431.5 308.7 L432.6 307.3 L432.5 307.4 L432.5 304.7 L432.5 301.8 L433.6 301.3 L433.8 301.9 L434 302.1 L434.3 302 L433.9 301.7 L433.9 300.8 L434.5 299.1 L434.7 298.6 L436 295.7 L435.4 295.2 L436 295.4 L436.5 293.6 L437 292.1 L437 294.5 L437.4 292.2 L437.6 288.2 L438.3 288 L438.4 291.2 L438.7 289.2 L439 289.1 L439.7 289.2 L439.5 287 L439.8 285.2 L440.4 284.4 L440.4 282.5 L440.7 281.5 L440.7 280.2 L440.7 278.3 L441.1 280.5 L441.6 278.2 L441.7 279.5 L442.2 276.4 L442.1 277.9 L442.2 273.7 L442.7 275.5 L442.8 270.5 L442.4 268.9 L442.4 269.2 L442.6 269.4 L443.1 270.4 L443 269.4 L442.7 267.9 L443.2 264.8 L443.5 262.6 L444 263.3 L444.7 265.1 L445.9 264.1 L446.4 264 L447.4 265.9 L448.2 260.7 L449.2 262.7 L449.4 260.7 L450.2 262 L450.9 261.9 L451.3 259.1 L452.3 259 L452.7 258.2 L453.5 259.6 L454.2 261.5 L455.1 261.9 L455.3 260.8 L455.7 260.6 L456.3 261.6 L456.9 260.3 L457.9 263.6 L459.3 263.6 L459.5 263.8 L459.8 261.8 L460.2 261.3 L460 262.1 L460.6 258.6 L461.5 257.3 L461.4 259.2 L461.7 258.6 L462.4 257.9 L462.2 257.1 L463 257.1 L463.3 255.3 L463.3 256.8 L463.3 253.6 L463.9 255.9 L464.6 259.4 L465.1 258.9 L464.9 257 L465.9 254.6 L465.9 254.2 L466.6 255.4 L467.3 254.6 L467.7 252 L468.4 251 L468.2 249.8 L468.9 246.2 L470.3 244.9 L472.5 243.1 L472 248.7 L472.5 249.1 L472.2 249.7 L472.5 248.6 L472.8 245.1 L473.3 244 L474.7 245.5 L474.4 246.7 L475.1 244.4 L475.9 244.3 L475.8 245.5 L476.3 243.2 L476.7 241.3 L477.9 243.9 L479 241.5 L480.7 239 L481.6 240.6 L482.2 241.8 L484.8 242.4 L485.4 243.2 L488 240.9 L488 240.5 L489.3 241.4 L490.3 241.5 L489.5 241.4 L490.3 244.5 L492 243.1 L492.5 243.5 L494.7 242.9 L495.5 240.5 L496.3 241.8 L496.3 241.3 L497.7 242.2 L498.7 241.5 L498.5 242.3 L499.8 241.1 L500.6 240.1 L500.8 239.2 L501.5 239 L501.7 235.7 L502.1 234.6 L502.8 234.3 L502.8 234.3 L503 234.2 L503.9 233.2 L504.5 233.8 L504.9 231.3 L505 228.2 L504.2 228.4 L505.1 225.5 L505 225.6 L505.9 225.6 L505.9 225.6 L505.6 223.4 L506.4 222.7 L507 222.9 L507.6 218.4 L507.6 219.3 L507.9 220.2 L508.1 218 L507.9 215.8 L508.8 216.3 L509.7 217.1 L510.2 216.1 L510.7 213.5 L511.2 212.5 L511.9 211.2 L512.2 210.3 L511.7 209.9 L512.3 212.3 L512.6 209 L513 206.5 L512.4 206.2 L513.2 204.8 L514.3 205.9 L514.3 204.1 L514.5 202.6 L515 201.3 L515.2 201.2 L515.9 199.6 L516.6 199.7 L516.9 197.5 L517.5 196.6 L518.4 198.4 L519 198.4 L520 194.7 L520.4 196.8 L521.1 195.6 L521.5 193.6 L522.4 192.9 L522.2 193.9 L522.2 192.1 L522.5 191.3 L522.6 190 L523.2 188.5 L523.3 185.9 L523.2 187.1 L523.4 186.4 L523.7 187.3 L523.9 186.3 L524.5 185.8 L525.4 184.3 L525.8 181 L526.7 180.1 L526.1 179.9 L526.4 178.6 L526.8 177.1 L527.3 174.7 L527.5 176.6 L526.9 174.3 L527.5 172.1 L528 171.6 L528.4 172.5 L528.7 169.9 L529.1 171 L529.1 170.4 L529.7 168.4 L529.6 170 L530.2 168.8 L530.9 165.8 L530.5 164.2 L530.6 165 L531.7 163.2 L530.8 161.4 L531.4 160.5 L531.9 161 L531.7 161.6 L531.7 162.3 L532.5 160.1 L532.5 159 L532.6 157.6 L532.6 155.9 L533.4 153.7 L533.9 151.1 L533.3 152.3 L533.3 152.2 L533.4 150.2 L533.4 151.1 L534.2 148.1 L534.2 146.3 L534.2 146.6 L534.5 147.1 L534.6 146.1 L534.7 145.4 L534.9 145.2 L534.9 142.5 L535.3 140.6 L534.7 141.1 L534 140.2 L533.3 140.7 L533.7 140.6 L534.8 139.1 L534 136.8 L534.4 134.8 L533.9 136.1 L533.4 135.8 L533.6 132.7" fill="none" stroke="#FF0000" stroke-width="5.8" stroke-linejoin="round" stroke-linecap="round"/>
<path d="M682.1 242.1 L681.6 240.8 L681.5 236.5 L683.1 240.1 L684.1 237.3 L685.1 238.5 L686.5 239 L686.6 241.1 L689.2 243.5 L690.5 242.4 L690.8 240.2 L692.3 238 L693.3 233.8 L694.5 235.8 L695.7 233 L694.5 237.8 L695.3 237.3 L696.1 237.6 L697.7 240.5 L698.3 237 L698.5 238.3 L700.1 242 L701.3 240.6 L702.5 237.1 L704 235.8 L703.9 236.5 L705.9 243.4 L707.1 244.7 L707.7 242.9 L708.3 241.3 L708.7 242.4 L710.1 244.7 L711 242.8 L711.8 239.9 L712.8 237.2 L714.1 245.3 L714 239 L715.8 239.5 L716.9 238.6 L717.6 236.2 L719 240.2 L719.1 241.6 L721.6 234.9 L721 238.3 L721.5 240.2 L722.5 236.1 L724 240.8 L724.8 241.6 L726.3 236 L727.2 238.4 L727.9 239 L728 241.3 L728.7 238.1 L730.7 236.2 L731.1 237 L731.4 238.8 L733.4 241.2 L733.3 240.1 L734.5 241.3 L735.8 237.5 L737.9 240.5 L738 236.5 L738.3 235.7 L738.5 239.1 L740.5 240.5 L742 236 L742.3 240.3 L742.2 239.6 L742.7 237 L744.8 234 L747.5 232.7 L747 236.3 L746.8 238.6 L748.7 235.5 L748.9 233.6 L750.2 232 L751.8 231.6 L753.1 234.4 L753.5 239.1 L754.2 239.1 L754.9 237.4 L755 235.8 L755.4 239.8 L757.1 244.8 L757.7 244.2 L759 242.2 L761.4 239.7 L762.3 238.7 L761.8 239.2 L762.6 234 L763.9 236.9 L765.2 243 L765.8 242.4 L766.6 243.1 L767.5 245.9 L768.8 240 L769.2 236.8 L770.3 235.9 L771.7 241.1 L773.2 241.6 L773.9 237.8 L774.3 240.2 L773.5 243.2 L774.7 240.7 L775.8 241.1 L776.6 241.3 L778.1 242.2 L778.8 247.2 L778.7 245.2 L781.5 238.7 L782.5 238.6 L781.4 237.7 L783 235.2 L783.8 234.8 L785.8 239.9 L785.2 235.5 L787.5 242.9 L788.6 240.3 L789.8 242.1 L790.6 242.2 L792.6 239.7 L793 238 L793.5 233.2 L794.5 235.8 L796 237.3 L796.1 236.8 L798.6 235.9 L798.5 241.1 L799.8 239.8 L800.6 241.8 L800.5 241.6 L800.9 236.2 L803.4 237.1 L803.6 237.8 L803.9 239.3 L804.5 241.2 L805.8 239.1 L806.3 237.7 L807.6 238.7 L809.5 240.2 L810.7 242.6 L811.5 242.7 L811.7 239.4 L812.4 239.7 L813.8 244.1 L814.6 239.9 L815.3 240.6 L816 237.4 L816.5 244.5 L818.8 242.6 L819.9 237.2 L820.5 242.2 L821.9 244.9 L823.7 241.4 L823.8 240.7 L823.6 243.2 L824.5 239.9 L825.4 239 L827.7 239.6 L828.1 238.9 L827.8 238.8 L829.1 240.5 L828.8 242.2 L831.8 241.2 L832.5 242.2 L832.3 243 L833.6 238.7 L835.1 240.6 L835.7 242.1 L836.8 246.1 L837 241.3 L839 242.4 L840.4 243.1 L840.7 242.9 L842.3 240.5 L841.3 245.1 L840.7 240.7 L843.6 241.2 L845.5 239.5 L845.1 242.4 L845.4 241.8 L846.7 245.3 L848.2 243.2 L849.4 244 L850.2 243.5 L851.5 245.4 L852.6 243.7 L854.5 243.5 L855 247 L855.5 242.9 L856 242.9 L856.6 242.8 L857.8 243.6 L858 242.3 L859.1 241.7 L860.2 242.1 L862 244 L862 245.8 L862.9 245 L863.6 246.4 L864.7 246.5 L864.8 246.1 L864.9 246.9 L866.2 245.1 L866.7 246.8 L866.8 247 L867.5 248.6 L867.9 246.8 L869.2 248.8 L870.9 250 L871.3 249.8 L872.3 253.6 L873.2 255 L873.2 253.5 L873.4 253.3 L873.7 250.8 L874.4 249.3 L875.2 248.9 L875.9 251.3 L876.8 252.5 L877.4 250.2 L878.7 249.8 L879.2 246.5 L879.7 246.6 L880.2 250.9 L880.3 246.9 L882.7 244.1 L883 246.6 L883.5 246.7 L885.7 243.3 L885.5 247.4 L885.8 244.9 L887.4 240.2 L889.2 241 L890.4 245.4 L890 247 L890.6 240.1 L892.2 238.9 L892.9 243.6 L893.3 241.5 L894.3 244.2 L895 244.2 L896 245.7 L896.6 245.2 L897.8 246.7 L898.3 247.4 L899.1 246.9 L899.4 247.1 L900.9 247.9 L901.9 249.3 L902 252.3 L903.4 250.9 L903.3 249.9 L903.7 248.8 L904.2 246.2 L905.4 248.6 L905.3 246.3 L905.8 245.1 L905.9 243.9 L905.8 243.3 L906 242 L907.2 242.7 L907.1 241.7 L908.4 240.8 L908.2 238.4 L908.5 236.5 L908.9 236 L910 236.9 L910.8 234 L911 233.7 L911.1 232 L911.1 232.8 L911.8 234.4 L912.4 231 L912.6 231.6 L913.4 230.1 L913.8 228.8 L914.7 230 L914.6 228.5 L915 227.9 L915 225.7 L916.1 224.8 L916.3 224.9 L916.1 222.2 L917 221.1 L918.2 221.6 L918.6 221.1 L919.3 219.8 L920.3 216.3 L921.3 217.5 L921.7 217.1 L922.4 215.8 L923.2 216.4 L923.1 216 L923.7 215 L924.5 216.3 L923.8 212.6 L924.9 212.1 L925 212.9 L925 211.3 L925.7 210.9 L925.9 208.9 L926.7 209.6 L926.8 208 L927 205.3 L927.4 203.1 L928.1 203.7 L928 204.6 L928.3 203.7 L927.4 200.8 L927.9 199.5 L928.3 197.5 L929.2 198.1 L929 198 L929.7 196.8 L930 195.2 L929.5 193.8 L930.1 193.4 L929.9 191.1 L930.3 190.5 L930 190.2 L930 189.5 L930 189.9 L930.9 189.8 L931.2 185.3 L933.3 186.5 L932.1 186.6 L933.9 186.1 L935 186.5 L935.1 186.2 L935.6 184.8 L936.4 184.9 L937.9 184.8 L938.5 183.1 L939.4 183.2 L939.6 185.2 L940.1 185.8 L941.3 185.1 L942.1 186 L941.8 186.5 L943.2 187.3 L943.9 190.3 L943.8 189.7 L944.6 189.5 L944.6 191 L945.2 191.1 L945.7 191.4 L945.9 191.2 L946 189.3 L946 188.8 L945.9 189 L946.3 188.7 L946 187.5 L945.9 184.9 L946.3 184.2 L947 183.8 L947.3 183.1 L947.4 182.1 L947 181.3 L946.8 179 L946.9 178 L947.3 175.5 L947.6 175.5 L947.7 176.8 L947.6 176.6 L948.1 174 L947.8 172.9 L949 171.8 L947.9 172.1 L948.3 172.2 L948 170.8 L947.7 169.2 L948.3 167.6 L948.1 167.4 L948.2 166.9 L948.3 164.1 L948.8 163.1 L949 162.8 L948.9 162.1 L949.1 161 L949.4 158.6 L949.4 157.2 L949.8 158.5 L949.5 158 L950.4 155.5 L950.9 153.4 L951 155.3 L950.9 155.5 L950.8 154.1 L952.3 152.4 L952.7 152.3 L952.7 149.2 L952.7 150.1 L953.4 149.5 L953.8 150.6 L952.9 147.9 L953.1 146.4 L952.6 145.4 L952.7 144 L953.1 145 L953 142.8 L953.3 141.4 L953.8 141.1 L953.1 140.4 L953.5 140 L954 139.3 L954 137.1 L953.9 136.2 L953.6 136.8 L954.1 135.4 L954 134.5 L955.2 130.9 L955.5 131.9 L955.8 131.5 L955.3 130.9 L955.4 130.2 L955.4 129.1 L955.6 128.4 L956 127.2 L956 124.5 L956.6 125.3 L956.1 125.5 L955 122.8 L955.3 121.8 L956.1 119.8 L956.7 117.2 L956.4 117.2 L956.7 117.2 L956.6 118.3 L956.6 115.9 L956.8 114.6 L956.6 113.3 L957.2 113 L957.2 112.4 L957.1 111.7 L956.9 111.1 L957 111.9 L957.7 110.2 L957.3 106.5 L956.9 107.9 L957.6 107.1 L957.7 104.7 L957.9 104.7 L957.5 103.9 L958.3 103.4 L957.8 103 L958.9 101.2 L958.8 101.6 L958.9 99.2 L958.8 100.1 L958.6 97.3 L959.2 95.1 L960 96.5 L960.3 93.6 L959.9 92.7 L960.1 92.8 L960.6 90.4 L960.6 89.3 L960.2 90.8 L960 89.1 L959.9 87.9 L959.9 87.4 L959.9 87 L959.4 85.6 L959.6 83.9 L960.3 83.2 L960.1 82.6 L959.6 82 L959.9 80.7 L960.4 80.4 L960 78.4 L960.5 80.8 L960.7 78.4 L960.7 76.5 L960.6 72.6 L960.6 72.1 L960.1 71.2 L960.5 72.4" fill="none" stroke="#FF0000" stroke-width="5.8" stroke-linejoin="round" stroke-linecap="round"/>
<path d="M1135.1 241.8 L1134.3 242.1 L1137.2 237.6 L1139 241 L1138 237.3 L1139.8 239.2 L1140.8 237 L1142.4 239.3 L1143 236.2 L1142.8 241.2 L1144.1 241.9 L1145.1 243.8 L1146.3 244.2 L1147.2 241.8 L1147.7 241.2 L1148.9 247 L1150.2 243.7 L1150.9 244.8 L1151.1 242.4 L1154.1 241 L1156.3 241.1 L1157.3 239 L1157.6 245.2 L1155.7 246.7 L1157.3 242.6 L1159.1 241.8 L1160.3 242.6 L1159.9 242.2 L1161.7 241.5 L1162.3 243.6 L1163.9 246 L1164.2 243 L1165.1 240.1 L1165.9 244.3 L1166.7 242.6 L1166.7 240.1 L1166.9 240.2 L1169.4 242.1 L1171.2 244.4 L1171.5 240.6 L1171 239.5 L1171.9 243.5 L1173.6 240.9 L1174.2 243.4 L1174.7 239.4 L1175.7 240.3 L1178 240.5 L1177 236.1 L1177.8 240.2 L1179.7 242.8 L1179.6 237.9 L1180.1 245.7 L1181.4 244.8 L1183.5 240.2 L1183.3 244.3 L1183.5 244.6 L1185.8 243.2 L1187 243.1 L1188.1 245.2 L1189.3 241.4 L1189.3 245.6 L1191 246.8 L1191.7 242.2 L1191.5 240.8 L1192 239.1 L1193.1 246 L1195.5 245.5 L1195.9 240.9 L1197.9 240.3 L1197.5 240.6 L1198.4 241.4 L1200.1 240.7 L1202 240.1 L1202.2 240.7 L1202.5 241.3 L1203.1 236.4 L1204.4 243 L1206.4 242.9 L1207.1 242 L1206.9 241.8 L1207.7 242.7 L1208.8 239.4 L1208.7 240.7 L1210 245.1 L1210.4 241.7 L1211.6 241.5 L1213.5 239.2 L1215.2 241.3 L1216.3 244.3 L1216 239.5 L1217.6 240.2 L1219.8 242.2 L1220.1 242.7 L1220.4 241.8 L1220.1 236.2 L1221.1 240 L1223.3 240.7 L1222.5 238.4 L1223.7 241.1 L1224.8 241.7 L1227.2 242.4 L1228.4 244.6 L1228.7 242.8 L1228.8 243.9 L1229.2 240.8 L1230.4 239.6 L1231.6 235.1 L1232.2 240.4 L1233.7 238.1 L1233.6 241.6 L1235.4 241.5 L1235.9 241 L1236.1 241 L1236.6 239.1 L1238.3 238.7 L1239.8 240.8 L1240.9 241.8 L1241.4 241.2 L1242.2 242.3 L1242.7 242.7 L1243.5 244.6 L1244.3 245.9 L1245.9 244.4 L1246.4 242.5 L1247.3 241.8 L1247.8 241.4 L1247.6 242.4 L1247.5 241.1 L1247.8 239.8 L1248.2 238.7 L1248.7 240.3 L1249.5 236.3 L1249.8 235.3 L1250.5 234.8 L1250.6 232.9 L1251.4 233.1 L1251.9 234 L1252.4 238.6 L1253 235.9 L1252.9 236.7 L1252.9 238.3 L1253.7 241.3 L1254.3 242.4 L1255.2 241 L1255.9 241 L1255.6 242.9 L1255.3 247.2 L1256.1 248.2 L1257 245.8 L1258.1 246 L1258.2 245.9 L1259.1 249.1 L1259.5 247.8 L1259.3 251.6 L1260.9 252.8 L1262.1 252.2 L1262.6 253.9 L1262.4 252.3 L1262.8 252.7 L1262.7 257.2 L1263.9 255.1 L1264.4 256.3 L1265.2 260 L1264.5 259.6 L1264.6 261.1 L1265.8 260.7 L1266.1 261.2 L1266.4 260.3 L1267 262.7 L1268 264.7 L1268.4 265.1 L1268.2 265.2 L1269.1 264.9 L1269.9 267.9 L1270.2 267.6 L1270 267.4 L1271.4 267.9 L1272.3 268.6 L1272.6 270.6 L1272.6 268.9 L1273.9 269.2 L1274.1 267.2 L1274.9 267.6 L1275.3 267.8 L1276 268.3 L1276.8 267.1 L1277.3 268 L1277.9 267.7 L1278.2 267.6 L1278 263 L1279.3 262.8 L1280.1 262.2 L1280.4 260.4 L1281.1 259.3 L1281.7 256.5 L1281.6 256.8 L1282.5 255 L1283 258.2 L1283.8 260.3 L1285 260.9 L1286.1 260.4 L1287 260.5 L1287.3 261.8 L1286.9 261.2 L1287.9 258.3 L1288.2 258.9 L1288.5 256.7 L1289.1 257.6 L1289 257.7 L1289.1 253.3 L1289.6 254.9 L1289.9 253.2 L1290.4 250.2 L1290.7 251.4 L1290.6 250.1 L1290.9 250.6 L1290.9 249.5 L1291 249.2 L1291.1 247.2 L1291.1 248.2 L1291.7 246.3 L1293.6 247.2 L1293.8 247.3 L1295.4 248 L1295.6 248.8 L1296.6 248.5 L1297.4 246.9 L1297.8 250.3 L1298.9 249.7 L1299.4 252.4 L1299.2 254.7 L1299.7 253.2 L1300.1 255.3 L1300.4 256.4 L1301 255.9 L1301.7 255.1 L1301.9 257.8 L1302.1 257.5 L1302.5 258 L1301.8 260.7 L1302.3 260.7 L1302 260.5 L1303.3 259.8 L1303.6 259.9 L1304.3 261.7 L1304.3 264.3 L1304.7 268.3 L1304.9 265.9 L1305.2 268.4 L1306.1 270.5 L1306.2 271.2 L1306.6 271.2 L1306.3 272.5 L1306.1 273.6 L1307 272.2 L1307.8 273.7 L1309.2 275.5 L1309.4 273.1 L1309.5 275.9 L1310 276.9 L1310.7 278.1 L1310.3 275 L1310.8 273.2 L1311.1 274.1 L1311.3 272.1 L1311.3 272.5 L1311 269.6 L1311 271 L1311.4 269.5 L1311.4 267 L1311.3 266.6 L1311.3 265.8 L1312 265.6 L1312.5 263.4 L1312.2 260.2 L1312.1 261.1 L1312.2 260.5 L1312.1 260.4 L1314 259.2 L1314.9 259.5 L1314.9 257.1 L1315.6 260.2 L1317.6 261.5 L1318.3 260.3 L1318.2 258.2 L1319.9 257.9 L1319.9 260 L1321.4 261.6 L1322.1 258.8 L1323.3 261.3 L1323.3 263.1 L1324.8 265.1 L1327.2 264.1 L1327 259.6 L1327.5 262 L1328 263.1 L1328.9 262.5 L1329.5 264.2 L1331.4 267.5 L1332.2 263.7 L1332.5 267.7 L1333.4 265.8 L1334.7 262.7 L1334.9 261.3 L1335.7 264.1 L1335.3 265.5 L1337.7 261.6 L1337.7 260.3 L1337.8 260.7 L1339 259.5 L1339.9 258.4 L1340.1 257.8 L1340.2 257.8 L1340.3 257.6 L1341 258.3 L1341.5 255.9 L1341.5 254.9 L1342.1 256.2 L1343.3 255.1 L1343.5 257.8 L1344.4 260.1 L1344.4 259.2 L1345.1 259.9 L1346.1 260.4 L1346.5 262.5 L1347.4 261.8 L1347.7 261.2 L1347.9 261.1 L1349.6 262.7 L1350.3 263.4 L1350.4 263 L1351 264.7 L1350.8 262.2 L1351.7 261.3 L1352.2 259.2 L1352.3 258.7 L1352.8 257.7 L1353.9 260.5 L1354.3 259.2 L1355.1 259.5 L1355.4 261.8 L1355.9 263.9 L1356.5 263.2 L1356.6 266.2 L1356.7 264.9 L1357.1 267.2 L1357 265.8 L1358 267.9 L1358.5 269 L1358.8 270.6 L1358.6 271.9 L1359.6 270.4 L1359.5 272.2 L1359.6 272.8 L1359.4 273.5 L1358.9 274.2 L1359.7 275 L1360.5 276.1 L1360.9 277.7 L1361.2 278 L1362.3 277.7 L1362.2 278.6 L1362.7 280.2 L1362.9 278.3 L1362.2 281 L1362.7 282.8 L1363.9 283.1 L1365 282.6 L1364.8 281.1 L1364.3 281.9 L1365.2 280.8 L1365.4 279.5 L1365.6 278.2 L1365 277.4 L1365.3 277.4 L1365.7 277.5 L1367 276.2 L1366.2 274.7 L1366.1 273.2 L1366.5 271.9 L1366.8 271.8 L1367.4 269.2 L1367.9 269.5 L1368.4 272 L1369.3 273.3 L1370 275.4 L1370.6 273.5 L1370.7 274.1 L1370.9 274.3 L1371.4 274.2 L1372.3 275.4 L1372.6 275.2 L1373.9 273.2 L1374.7 272.8 L1374 270.3 L1375 271.6 L1374.8 271 L1374.7 269 L1375.4 268.9 L1376.5 267.8 L1376.6 267.7 L1376.8 264 L1376.4 264.5 L1377.2 266.6 L1378.5 263.7 L1379.4 262 L1379.9 267.7 L1380.6 267.7 L1381.7 266.3 L1381.4 268.8 L1382.3 269.9 L1383.3 267.9 L1383.2 270.2 L1383.8 272.2 L1383.9 270.9 L1383.5 271.2 L1385 273.3 L1385.4 274.7 L1385.6 275.6 L1385.9 276.4 L1386.5 278.7 L1386.4 276.5 L1387.1 277.5 L1387.2 278.8 L1388.4 278.8 L1388.3 279 L1388.8 281.2 L1390.1 283.1 L1390.7 282.9 L1390.9 284.1 L1391.5 284.1 L1391.8 284.9 L1392.2 286.9 L1392.7 287.1 L1393.8 286.7 L1394.2 289.9 L1394.5 288.9 L1395.9 287.5 L1397.1 288.1 L1398 289.3 L1397.9 289.1 L1398.7 288.7 L1399.1 289 L1399.6 286.9 L1399.4 285.8 L1399.9 284.6 L1400.6 283.3 L1401 285 L1401.3 285.3 L1401.3 284.1 L1401.7 284.7 L1402.2 281.5 L1402.6 279.5 L1402.9 278.6 L1402.6 278.9 L1402.1 276.1 L1402.3 278 L1401.9 277.1 L1402.3 273.8 L1402.7 273.7 L1402.9 271.5 L1402.7 270 L1402.8 270 L1403.4 267.9 L1403.5 268.9 L1404.4 267.8 L1404.5 268.1 L1404.1 265.4 L1404.7 263.8 L1404.7 266.7 L1405.1 263.1 L1404.3 264.2 L1406.3 262.4 L1406.7 260 L1408 263.4 L1408.1 264.2 L1408.1 262.5 L1410.7 258.8 L1411.2 258.1 L1412.6 260.2 L1414.3 260.7 L1414.6 258.7 L1414.2 260.6 L1414.4 257.3 L1414.7 255.5 L1414.1 253 L1414.8 255.6 L1414.2 251.1 L1413.9 252.4 L1414.3 250.7 L1415.1 249.6 L1414.6 248.2 L1414.7 247.6 L1414.6 250.2 L1415.1 248.9 L1415.1 245.5 L1415 245 L1415.7 244.2 L1416.5 241.8 L1415.8 239.4 L1415.2 241.5 L1415.7 239.9 L1415.7 236.7 L1416.7 237.3 L1416.5 237.7 L1416.7 237 L1416.8 236.3 L1417.1 234.9 L1417.3 235.6 L1416.6 233.3 L1417.2 231 L1417.7 232.9 L1418.7 229.8 L1418.7 230.5 L1419 228.6 L1419.4 228.3 L1419.6 226.6 L1419.7 227.5 L1419.7 227 L1419.8 222.1 L1419.9 223.9 L1420 222.6 L1421.2 221.1 L1421 221 L1420.9 218.3 L1420.8 215.2 L1420.8 214.7 L1421.2 216.7 L1421 214.9 L1420.9 211.7 L1421.8 212.2 L1421.6 211.5 L1422 209.2 L1423.5 210.5 L1423.8 209.6 L1424.3 209.1 L1424.4 207.2 L1424.1 206 L1424.1 206.6 L1424.6 207.4 L1425.1 203.8 L1425.2 201.9 L1425.7 202.4 L1425.2 201.8 L1425.4 200 L1426.3 200.3 L1426.5 198.1 L1427.1 198.4 L1426.7 197.4 L1427.1 194.6 L1427.9 194.8 L1428.6 194.3 L1427.8 193.7 L1429 193.2 L1429.1 191.6 L1428.6 190.7 L1428.2 188.8 L1427.5 189.8 L1427.9 187.8 L1427.6 188 L1427.4 185.2 L1428 183.9 L1427.5 183 L1428.2 182.8 L1428.4 181.2 L1428.5 180 L1428.4 179.4 L1428 178.2 L1427.8 178.6 L1427.6 176.7 L1427.9 177.3 L1428.2 173.1 L1428.2 175.1 L1428 171.6 L1428.6 171.3 L1428.1 171.7 L1428.6 171.2 L1428.8 172.9 L1427.9 170.8 L1427.8 169 L1428.7 165.9 L1428.5 166.2 L1428.7 166.5 L1428.7 163.8 L1429.4 163 L1428.7 162.9 L1428.3 162.7 L1429.1 161.4 L1429.3 160.2 L1429.5 158 L1430 158.1 L1429 159.3 L1430 157.2 L1428.6 155.9 L1429.6 154.5 L1430.6 154.2 L1430.9 154.7 L1431.9 154.7 L1431.7 153 L1432.3 150.2 L1432.9 149.7 L1432.6 148.8 L1432.9 147.3 L1432.7 146.7 L1433.4 147.5 L1433.5 146 L1433.9 145.2 L1435.1 142.9 L1433.4 139.7 L1433.4 141.7 L1433.3 139.6 L1433.9 138.6 L1433.6 139 L1433.5 138.6 L1433.4 137.2 L1432.8 136.7 L1432.5 134 L1432.1 134.8 L1432 132.8 L1432.2 131.7 L1432.2 131.5 L1432.2 129.8 L1432 130.3 L1431.4 129.5 L1431.5 127.2 L1431.1 127.1 L1430.8 125.9 L1430.5 124.2 L1430.3 124 L1430.4 123.4" fill="none" stroke="#FF0000" stroke-width="5.8" stroke-linejoin="round" stroke-linecap="round"/>
<!-- Fmax bar -->
<g fill="#000">
<rect x="487.5" y="249.4" width="36.7" height="6"/>
<rect x="502.4" y="249.4" width="5.4" height="117.8"/>
<rect x="487.5" y="361.2" width="36.7" height="6"/>
</g>
<text transform="translate(515 315.8) scale(1 1.04)" font-size="45" font-style="italic">F</text>
<text x="541" y="325.7" font-size="31">max</text>
<path d="M411.3 381.3 L411.3 374.5 M411.3 381.3 L417.8 379.2 M411.3 381.3 L415.3 386.8 M411.3 381.3 L407.3 386.8 M411.3 381.3 L404.8 379.2" stroke="#000" stroke-width="3.1" stroke-linecap="round" fill="none"/>
<path d="M876 281.5 L876 274.7 M876 281.5 L882.5 279.4 M876 281.5 L880 287 M876 281.5 L872 287 M876 281.5 L869.5 279.4" stroke="#000" stroke-width="3.1" stroke-linecap="round" fill="none"/>
<path d="M1400.5 312.9 L1400.5 306.1 M1400.5 312.9 L1407 310.8 M1400.5 312.9 L1404.5 318.4 M1400.5 312.9 L1396.5 318.4 M1400.5 312.9 L1394 310.8" stroke="#000" stroke-width="3.1" stroke-linecap="round" fill="none"/>
</svg>
</body></html>
